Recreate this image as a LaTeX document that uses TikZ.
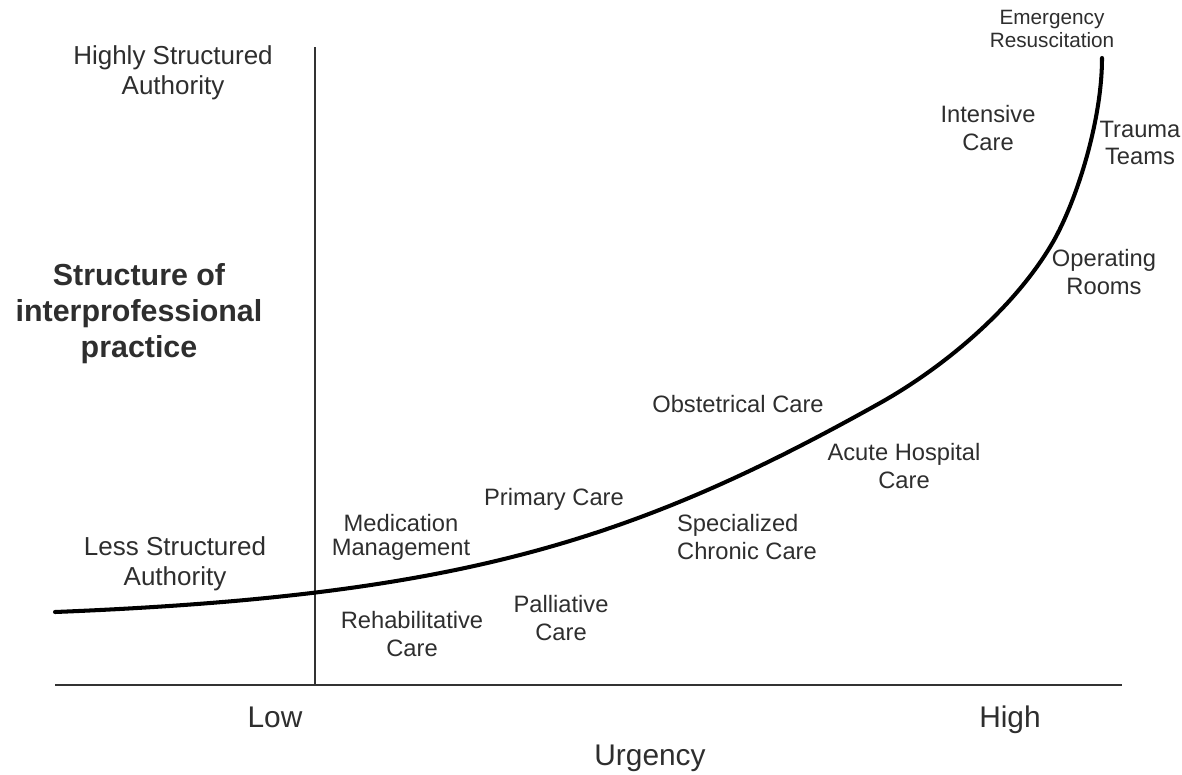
\documentclass[tikz,border=0pt]{standalone}
\usepackage{fontspec}
\setmainfont{Liberation Sans}

\begin{document}
\begin{tikzpicture}[x=0.02cm,y=-0.02cm,
	lbl/.style={align=center,inner sep=0pt,text=black!82,font=\fontsize{13.5}{15.5}\selectfont},
	auth/.style={lbl,font=\fontsize{14.8}{17}\selectfont},
	big/.style={lbl,anchor=base,font=\fontsize{17}{20}\selectfont},
	axis/.style={line width=1.1pt,draw=black!80}]
\useasboundingbox (0,0) rectangle (1182,774);
% axes
\coordinate (xl) at (55,685);
\coordinate (xr) at (1122,685);
\coordinate (o) at (315,685);
\coordinate (yt) at (315,47);
\draw[axis] (xl) -- (xr);
\draw[axis] (o) -- (yt);
% curve
\coordinate (c0) at (55,612);
\coordinate (c1) at (880,403);
\coordinate (c2) at (1053,242);
\coordinate (c3) at (1102,58);
\draw[line width=2.3pt,line cap=round] (c0) .. controls (455,596) and (630,543) .. (c1)
	.. controls (940,369.4) and (1013,311) .. (c2)
	.. controls (1077,200) and (1102,120) .. (c3);
% axis texts
\node[auth] (high) at (173,73) {Highly Structured\\Authority};
\node[auth] (less) at (175,564) {Less Structured\\Authority};
\node[lbl,font=\bfseries\fontsize{17.3}{20.5}\selectfont] (ytitle) at (139,314) {Structure of\\interprofessional\\practice};
\node[big] (low) at (275,727) {Low};
\node[big] (hi) at (1010,727) {High};
\node[big] (xtitle) at (650,765) {Urgency};
% settings
\node[lbl,font=\fontsize{11.8}{12.6}\selectfont] (emerg) at (1052,29) {Emergency\\Resuscitation};
\node[lbl] (icu) at (988,128) {Intensive\\Care};
\node[lbl] (trauma) at (1140,143) {Trauma\\Teams};
\node[lbl] (or) at (1104,272) {Operating\\Rooms};
\node[lbl] (obst) at (738,404) {Obstetrical Care};
\node[lbl] (acute) at (904,466) {Acute Hospital\\Care};
\node[lbl,align=left] (chronic) at (747,537) {Specialized\\Chronic Care};
\node[lbl] (primary) at (554,499) {Primary Care};
\node[lbl,font=\fontsize{13.5}{13.8}\selectfont] (medic) at (401,537) {Medication\\Management};
\node[lbl] (rehab) at (412,634) {Rehabilitative\\Care};
\node[lbl] (pall) at (561,618) {Palliative\\Care};
\end{tikzpicture}
\end{document}
